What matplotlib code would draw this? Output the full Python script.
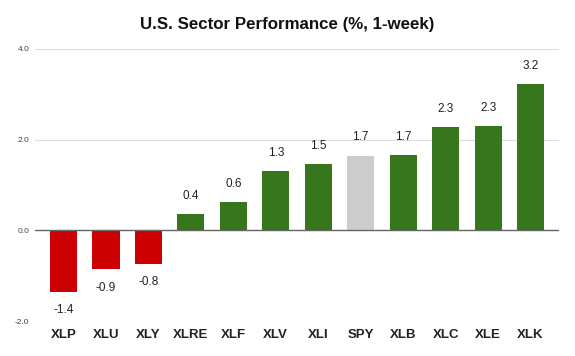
import matplotlib.pyplot as plt

# Données
tickers = ["XLP", "XLU", "XLY", "XLRE", "XLF", "XLV", "XLI", "SPY", "XLB", "XLC", "XLE", "XLK"]
perf = [-1.36, -0.86, -0.74, 0.36, 0.62, 1.30, 1.46, 1.65, 1.66, 2.27, 2.30, 3.22]
labels = ["-1.4", "-0.9", "-0.8", "0.4", "0.6", "1.3", "1.5", "1.7", "1.7", "2.3", "2.3", "3.2"]
benchmark = "SPY"
y_ticks = [-2.0, 0.0, 2.0, 4.0]

plt.rcParams['font.family'] = ['Liberation Sans', 'DejaVu Sans']

colors = []
for t, v in zip(tickers, perf):
    if t == benchmark:
        colors.append("#cccccc")
    elif v < 0:
        colors.append("#cc0000")
    else:
        colors.append("#38761d")

fig = plt.figure(figsize=(5.75, 3.56), dpi=100)
ax = fig.add_axes([0.0609, 0.0983, 0.9113, 0.7641])

x = list(range(len(tickers)))
ax.bar(x, perf, width=0.64, color=colors, zorder=3)

# étiquettes de valeur
for xi, v, lab in zip(x, perf, labels):
    if v >= 0:
        ax.annotate(lab, (xi, v), xytext=(0, 9), textcoords="offset points",
                    ha="center", va="bottom", fontsize=8.5, color="#222222")
    else:
        ax.annotate(lab, (xi, v), xytext=(0, -9), textcoords="offset points",
                    ha="center", va="top", fontsize=8.5, color="#222222")

ax.set_xlim(-0.67, len(tickers) - 0.33)
ax.set_ylim(-2.0, 4.0)
ax.set_yticks(y_ticks)
ax.set_yticklabels([f"{t:.1f}" for t in y_ticks], fontsize=6, color="#444444")
ax.set_xticks(x)
ax.set_xticklabels(tickers, fontsize=9.5, fontweight="bold", color="#222222")
ax.tick_params(axis="both", length=0)
ax.tick_params(axis="x", pad=6)
ax.tick_params(axis="y", pad=4)

ax.grid(axis="y", color="#dddddd", linewidth=0.8, zorder=0)
ax.axhline(0, color="#666666", linewidth=1, zorder=4)
for s in ax.spines.values():
    s.set_visible(False)

fig.suptitle("U.S. Sector Performance (%, 1-week)", fontsize=12.2, fontweight="bold",
             color="#111111", x=0.5, y=0.953, va="top")

fig.savefig("out.png", dpi=100)
